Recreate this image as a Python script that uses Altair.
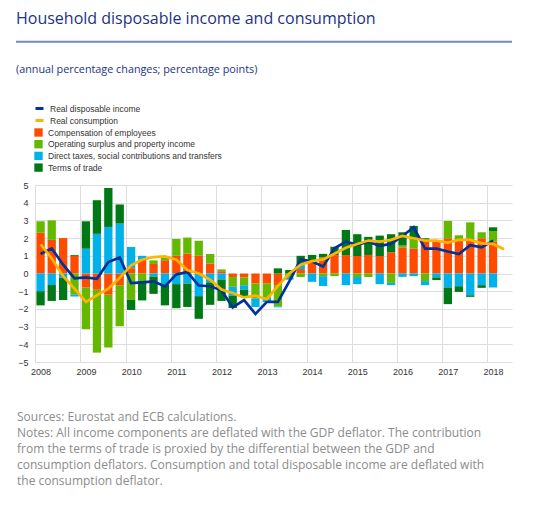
import altair as alt
import pandas as pd

# ---------------- data ----------------
years = list(range(2008, 2019))
quarters = [f"{y}Q{q}" for y in range(2008, 2018) for q in range(1, 5)] + ["2018Q1"]
quarters_cons = quarters + ["2018Q2"]

components = ["Compensation of employees",
              "Operating surplus and property income",
              "Direct taxes, social contributions and transfers",
              "Terms of trade"]
comp_colors = ["#ff4b00", "#65b800", "#00b1ea", "#007816"]

series = ["Real disposable income", "Real consumption"]
series_colors = ["#003299", "#ffb400"]

compensation = [2.3, 1.9, 2.0, 1.0,
                -0.8, -0.92, -1.2, -0.66,
                0.3, 0.78, 0.54, 0.75,
                1.0, 1.13, 1.0, 0.57,
                0.13, -0.2, -0.23, -0.57,
                -0.57, -0.66, 0.0, 0.25,
                0.66, 0.91, 1.04, 1.04,
                0.99, 1.05, 0.99, 1.2,
                1.48, 1.42, 1.83, 1.85,
                1.99, 1.89, 1.89, 1.99,
                1.8]
op_surplus = [0.65, 1.1, 0.0, -1.2,
              -2.35, -3.55, -2.98, -2.32,
              -1.49, -0.42, 0.2, 0.15,
              0.95, 0.9, 0.85, 0.53,
              0.1, -0.55, -0.43, -0.85,
              -0.81, -1.2, -0.2, -0.2,
              0.0, -0.15, -0.15, 0.0,
              -0.2, -0.2, 0.0, -0.53,
              0.1, 0.57, -0.43, 0.0,
              0.98, 0.27, 1.0, 0.34,
              0.6]
taxes = [-1.0, -0.65, -0.25, -0.1,
         1.4, 2.24, 2.63, 2.82,
         1.2, 0.22, -0.17, -0.65,
         -0.6, -0.57, -1.28, -0.5,
         -0.34, -0.5, -0.25, -0.47,
         -0.23, -0.05, -0.15, 0.25,
         -0.47, -0.56, 0.0, -0.66,
         -0.4, 0.0, -0.6, -0.13,
         -0.19, -0.15, -0.23, -0.22,
         -0.79, -0.72, -1.23, -0.66,
         -0.79]
terms_of_trade = [-0.8, -0.9, -1.25, 0.05,
                  1.55, 1.9, 2.2, 1.08,
                  -0.57, -1.1, -0.98, -1.15,
                  -1.36, -1.32, -1.28, -1.27,
                  -1.21, -0.7, -0.38, 0.0,
                  0.0, 0.29, 0.2, 0.5,
                  0.39, 0.2, 0.47, 1.42,
                  1.23, 1.02, 1.15, 1.02,
                  0.75, 0.7, 0.16, -0.15,
                  -0.94, -0.32, -0.09, -0.15,
                  0.21]
disposable_income = [1.1, 1.42, 0.5, -0.28,
                     -0.22, -0.3, 0.65, 0.9,
                     -0.54, -0.5, -0.44, -0.73,
                     -0.05, 0.08, -0.68, -0.72,
                     -0.95, -1.92, -1.5, -2.29,
                     -1.6, -1.6, -0.45, 0.8,
                     0.67, 0.39, 1.42, 1.8,
                     1.62, 1.8, 1.56, 1.67,
                     2.12, 2.61, 1.4, 1.4,
                     1.24, 1.1, 1.6, 1.48,
                     1.86]
consumption = [1.66, 0.85, -0.15, -0.85,
               -1.6, -1.23, -0.85, -0.25,
               0.46, 0.78, 0.93, 0.97,
               0.78, 0.2, 0.0, -0.35,
               -0.9, -1.1, -1.35, -1.25,
               -1.45, -0.7, 0.0, 0.5,
               0.7, 0.8, 1.12, 1.45,
               1.67, 1.86, 1.8, 1.9,
               2.12, 1.99, 1.86, 1.86,
               1.75, 1.9, 1.9, 1.7,
               1.67, 1.37]

y_ticks = [-5, -4, -3, -2, -1, 0, 1, 2, 3, 4, 5]

title_text = "Household disposable income and consumption"
subtitle_text = "(annual percentage changes; percentage points)"
footer_lines = [
    "Sources: Eurostat and ECB calculations.",
    "Notes: All income components are deflated with the GDP deflator. The contribution",
    "from the terms of trade is proxied by the differential between the GDP and",
    "consumption deflators. Consumption and total disposable income are deflated with",
    "the consumption deflator.",
]


def q_date(q):
    y, n = int(q[:4]), int(q[5])
    return f"{y}-{3 * (n - 1) + 2:02d}-15"


rows = []
for i, q in enumerate(quarters):
    for k, (name, vals) in enumerate(zip(components, [compensation, op_surplus, taxes, terms_of_trade])):
        rows.append({"date": q_date(q), "component": name, "value": vals[i], "order": k})
bars_df = pd.DataFrame(rows)

inc_df = pd.DataFrame({"date": [q_date(q) for q in quarters], "series": series[0], "value": disposable_income})
cons_df = pd.DataFrame({"date": [q_date(q) for q in quarters_cons], "series": series[1], "value": consumption})

# ---------------- chart ----------------
x_scale = alt.Scale(type="utc", padding=0, nice=False,
                    domain=[alt.DateTime(year=2008, month=1, date=1, utc=True),
                            alt.DateTime(year=2018, month=7, date=18, utc=True)])
x_axis = alt.Axis(values=[alt.DateTime(year=y, month=1, date=1, utc=True) for y in years],
                  format="%Y", title=None, labelOffset=5.6, labelAlign="center",
                  labelFlush=False, labelOverlap=False)
y_scale = alt.Scale(domain=[-5, 5], nice=False, zero=True)
y_axis = alt.Axis(values=y_ticks, title=None, labelOverlap=False)

X = alt.X("date:T", scale=x_scale, axis=x_axis)

bars = alt.Chart(bars_df).mark_bar(size=8.3).encode(
    x=X,
    y=alt.Y("value:Q", stack="zero", scale=y_scale, axis=y_axis),
    color=alt.Color("component:N", scale=alt.Scale(domain=components, range=comp_colors),
                    legend=alt.Legend(title=None, orient="none", legendX=-1, legendY=-57,
                                      symbolType="square", symbolSize=70, symbolStrokeWidth=0,
                                      labelFontSize=8.5, labelFont="Liberation Sans",
                                      labelColor="#333333", rowPadding=2.7, labelOffset=5,
                                      labelLimit=400)),
    order=alt.Order("order:Q"),
)

stroke_scale = alt.Scale(domain=series, range=series_colors)
line_legend = alt.Legend(title=None, orient="none", legendX=-1, legendY=-82,
                         symbolType="stroke", symbolSize=64, symbolStrokeWidth=3,
                         labelFontSize=8.5, labelFont="Liberation Sans",
                         labelColor="#333333", rowPadding=-2, labelOffset=5, labelLimit=400)

inc_line = alt.Chart(inc_df).mark_line(strokeWidth=2.7).encode(
    x=X,
    y=alt.Y("value:Q", scale=y_scale, axis=y_axis),
    stroke=alt.Stroke("series:N", scale=stroke_scale, legend=line_legend),
)
cons_line = alt.Chart(cons_df).mark_line(strokeWidth=2.7).encode(
    x=X,
    y=alt.Y("value:Q", scale=y_scale, axis=y_axis),
    stroke=alt.Stroke("series:N", scale=stroke_scale, legend=line_legend),
)

title = alt.Chart(pd.DataFrame({"t": [title_text]})).mark_text(
    align="left", baseline="alphabetic", font="Open Sans", fontSize=16, color="#1b3384"
).encode(text="t:N", x=alt.value(-19), y=alt.value(-161.5))

title_rule = alt.Chart(pd.DataFrame({"t": [0]})).mark_rule(color="#7388bd", strokeWidth=2).encode(
    x=alt.value(-19), x2=alt.value(477), y=alt.value(-143.3))

subtitle = alt.Chart(pd.DataFrame({"t": [subtitle_text]})).mark_text(
    align="left", baseline="alphabetic", font="Open Sans", fontSize=10.8, color="#1b3384"
).encode(text="t:N", x=alt.value(-19), y=alt.value(-112))

footer = alt.Chart(pd.DataFrame({"t": [0]})).mark_text(
    align="left", baseline="alphabetic", font="Open Sans", fontSize=12, color="#8c8c8c",
    text=footer_lines, lineHeight=16,
).encode(x=alt.value(-18), y=alt.value(236))

chart = alt.layer(bars, inc_line, cons_line, title, title_rule, subtitle, footer).properties(
    width=477, height=177,
    autosize=alt.AutoSizeParams(type="none"),
    padding={"left": 27, "top": 177, "right": 20, "bottom": 130},
).configure_view(stroke=None).configure_axis(
    domain=False, ticks=False, grid=True, gridColor="#dddddd", gridWidth=1,
    labelFontSize=9, labelColor="#333333", labelFont="Liberation Sans",
).configure_axisX(labelPadding=5).configure_axisY(labelPadding=7)

chart.save("out.html", embed_options={"renderer": "svg", "actions": False})
